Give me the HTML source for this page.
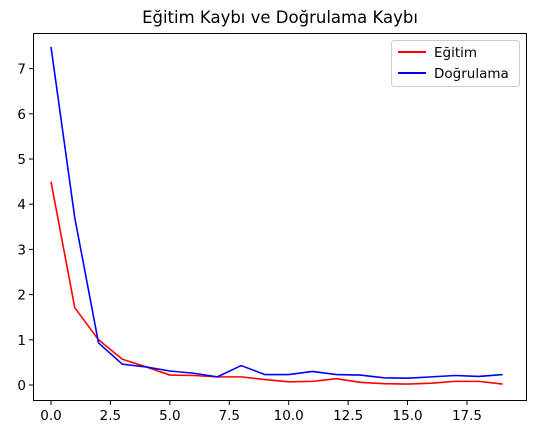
<!DOCTYPE html>
<html><head><meta charset="utf-8"><style>
body{margin:0;background:#fff;width:534px;height:435px;overflow:hidden}
text{font-family:"DejaVu Sans","Liberation Sans",sans-serif;fill:#000}
</style></head><body>
<svg id="chart" width="534" height="435">
<text x="280" y="23" font-size="16.5" text-anchor="middle">Eğitim Kaybı ve Doğrulama Kaybı</text>
<g id="axes"></g>
<g id="series"></g>
<rect x="33.5" y="33.5" width="493" height="367" fill="none" stroke="#000" stroke-width="1"/>
<g>
<rect x="391.5" y="40.5" width="128" height="46" rx="3" fill="#fff" stroke="#ccc"/>
<line x1="398" y1="52" x2="426" y2="52" stroke="red" stroke-width="2"/>
<text x="434" y="57" font-size="13.5">Eğitim</text>
<line x1="398" y1="73" x2="426" y2="73" stroke="blue" stroke-width="2"/>
<text x="434" y="78" font-size="13.5">Doğrulama</text>
</g>
</svg>
<script>
const epochs=[0,1,2,3,4,5,6,7,8,9,10,11,12,13,14,15,16,17,18,19];
const trainLoss=[4.5,1.71,1.0,0.57,0.4,0.22,0.21,0.18,0.18,0.12,0.07,0.08,0.14,0.06,0.03,0.02,0.04,0.08,0.08,0.02];
const valLoss=[7.48,3.7,0.93,0.46,0.4,0.31,0.26,0.18,0.43,0.23,0.23,0.3,0.23,0.22,0.16,0.15,0.18,0.21,0.19,0.23];
const xTicks=[0,2.5,5,7.5,10,12.5,15,17.5];
const xTickLabels=["0.0","2.5","5.0","7.5","10.0","12.5","15.0","17.5"];
const yTicks=[0,1,2,3,4,5,6,7];
const NS="http://www.w3.org/2000/svg";
const xs=v=>51+v*23.77;
const ys=v=>385-v*45.2;
const axes=document.getElementById('axes');
function mk(tag,attrs,parent){const e=document.createElementNS(NS,tag);for(const k in attrs)e.setAttribute(k,attrs[k]);parent.appendChild(e);return e;}
xTicks.forEach((t,i)=>{
 const l=mk('line',{x1:xs(t),x2:xs(t),y1:401,y2:405,stroke:'#000'},axes);
 
 
 const tx=mk('text',{x:xs(t),y:420,'font-size':'13.5','text-anchor':'middle'},axes);
 tx.textContent=xTickLabels[i];
 
 
});
yTicks.forEach(t=>{
 const l=mk('line',{x1:29,x2:33,y1:ys(t),y2:ys(t),stroke:'#000'},axes);
 
 
 const tx=mk('text',{x:26,y:ys(t)+5,'font-size':'13.5','text-anchor':'end'},axes);
 tx.textContent=String(t);
 
 
});
const g=document.getElementById('series');
function line(data,color,name){
 const p=mk('polyline',{points:data.map((v,i)=>xs(epochs[i])+','+ys(v)).join(' '),fill:'none',stroke:color,'stroke-width':'1.6','stroke-linejoin':'round'},g);
 
 
}
line(trainLoss,'red','train-loss-line');
line(valLoss,'blue','val-loss-line');
</script>
</body></html>
